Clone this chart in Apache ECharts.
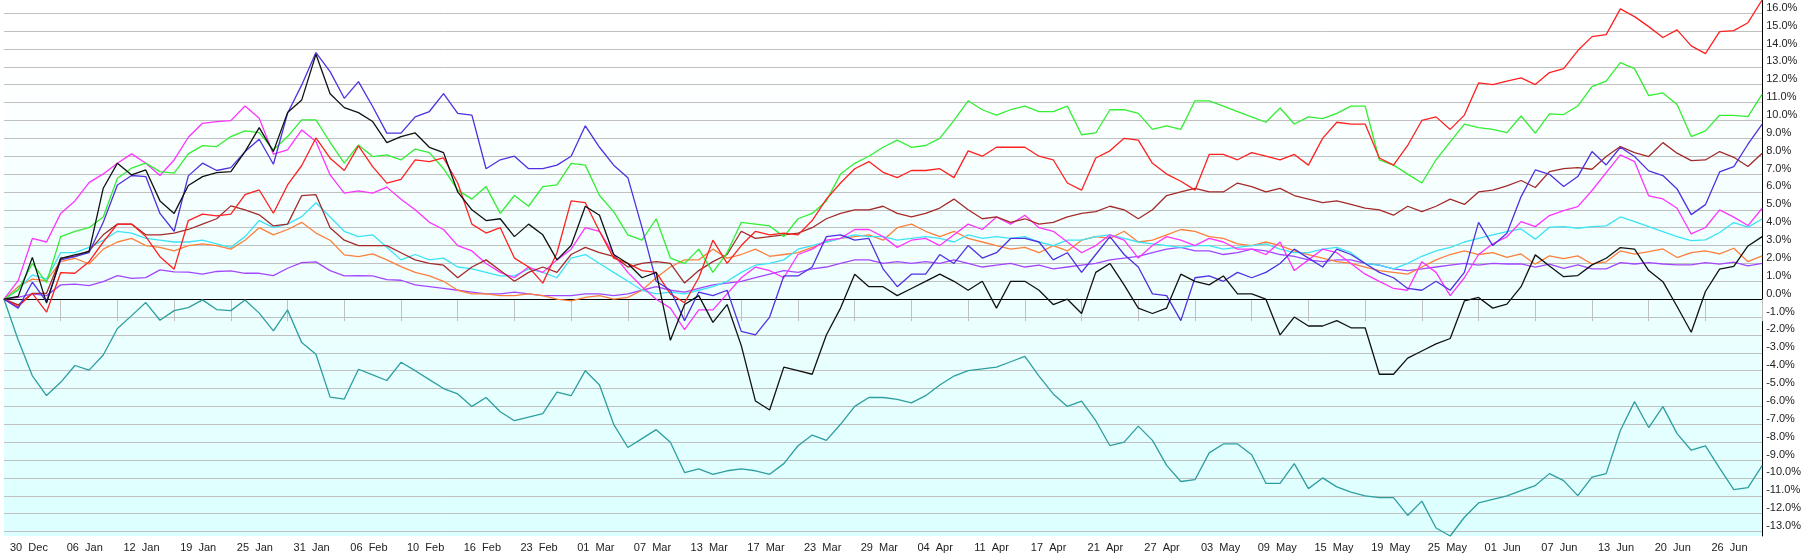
<!DOCTYPE html>
<html>
<head>
<meta charset="utf-8">
<script src="https://cdn.jsdelivr.net/npm/echarts@6/dist/echarts.min.js"></script>
<style>
html,body{margin:0;padding:0;background:#fff;}
#chart{width:1804px;height:558px;}
</style>
</head>
<body>
<div id="chart"></div>
<script>
const categories = [
'30 Dec','03 Jan','04 Jan','05 Jan','06 Jan','09 Jan','10 Jan','11 Jan','12 Jan','13 Jan',
'17 Jan','18 Jan','19 Jan','20 Jan','23 Jan','24 Jan','25 Jan','26 Jan','27 Jan','30 Jan',
'31 Jan','01 Feb','02 Feb','03 Feb','06 Feb','07 Feb','08 Feb','09 Feb','10 Feb','13 Feb',
'14 Feb','15 Feb','16 Feb','17 Feb','21 Feb','22 Feb','23 Feb','24 Feb','27 Feb','28 Feb',
'01 Mar','02 Mar','03 Mar','06 Mar','07 Mar','08 Mar','09 Mar','10 Mar','13 Mar','14 Mar',
'15 Mar','16 Mar','17 Mar','20 Mar','21 Mar','22 Mar','23 Mar','24 Mar','27 Mar','28 Mar',
'29 Mar','30 Mar','31 Mar','03 Apr','04 Apr','05 Apr','06 Apr','07 Apr','11 Apr','12 Apr',
'13 Apr','14 Apr','17 Apr','18 Apr','19 Apr','20 Apr','21 Apr','24 Apr','25 Apr','26 Apr',
'27 Apr','28 Apr','01 May','02 May','03 May','04 May','05 May','08 May','09 May','10 May',
'11 May','12 May','15 May','16 May','17 May','18 May','19 May','22 May','23 May','24 May',
'25 May','26 May','30 May','31 May','01 Jun','02 Jun','05 Jun','06 Jun','07 Jun','08 Jun',
'09 Jun','12 Jun','13 Jun','14 Jun','15 Jun','16 Jun','20 Jun','21 Jun','22 Jun','23 Jun',
'26 Jun','27 Jun','28 Jun','29 Jun','30 Jun'
];

const yTicks = [-13,-12,-11,-10,-9,-8,-7,-6,-5,-4,-3,-2,-1,0,1,2,3,4,5,6,7,8,9,10,11,12,13,14,15,16];

const redSeries = [
0,-0.41,0.33,-0.73,1.49,1.45,2.1,3.2,4.2,4.2,
3.5,2.38,1.68,4.4,4.76,4.66,4.76,5.85,6.11,4.81,
6.39,7.48,9.02,7.89,7.2,8.58,7.42,6.49,6.71,7.8,
7.7,7.9,6.5,4.2,3.7,4.0,2.3,1.8,0.9,2.6,
5.5,5.4,3.8,2.3,2.0,1.6,1.5,0.3,-0.2,1.2,
3.3,2.0,3.0,3.8,3.6,3.7,3.6,4.4,5.6,6.5,
7.3,7.7,7.1,6.8,7.2,7.2,7.3,6.8,8.3,8.0,
8.5,8.5,8.5,8.0,7.8,6.5,6.1,7.9,8.3,9.0,
8.9,7.6,7.0,6.6,6.1,8.1,8.1,7.8,8.2,8.0,
7.8,8.1,7.5,9.0,9.9,9.8,9.8,7.9,7.5,8.6,
10.0,10.2,9.5,10.3,12.1,12.0,12.2,12.38,12.01,12.68,
12.9,13.91,14.69,14.8,16.24,15.81,15.25,14.64,15.07,14.17,
13.74,14.97,15.03,15.47,16.74
];

const greenSeries = [
0,0.52,2.0,0.93,3.5,3.8,4.0,4.6,6.77,7.33,
7.61,7.14,7.05,8.13,8.59,8.54,9.1,9.42,9.32,8.35,
9.1,10.03,10.03,8.78,7.61,8.63,7.98,8.07,7.79,8.4,
8.2,7.3,6.1,5.6,6.3,4.8,5.8,5.2,6.3,6.4,
7.6,7.5,5.8,4.9,3.6,3.3,4.5,2.3,2.0,2.8,
1.5,2.6,4.3,4.2,4.1,3.5,4.5,4.8,5.5,7.0,
7.6,8.0,8.5,8.9,8.5,8.6,9.0,10.0,11.1,10.6,
10.3,10.6,10.8,10.5,10.5,10.8,9.2,9.3,10.6,10.6,
10.4,9.5,9.7,9.5,11.1,11.1,10.8,10.5,10.2,9.9,
10.7,9.8,10.2,10.1,10.4,10.8,10.8,7.8,7.5,7.0,
6.5,7.8,8.8,9.8,9.6,9.5,9.32,10.25,9.29,10.37,
10.33,10.81,11.89,12.2,13.24,12.9,11.39,11.54,10.89,9.1,
9.42,10.29,10.29,10.22,11.47
];

const maroonSeries = [
0,-0.32,0.33,0.33,2.29,2.4,2.7,3.6,4.2,4.2,
3.6,3.6,3.7,3.9,4.2,4.5,5.22,5.0,4.72,4.1,
4.2,5.8,5.85,4.0,3.3,3.0,3.0,3.0,2.6,2.2,
2.0,1.9,1.2,1.8,2.2,1.6,1.0,1.5,1.8,1.5,
2.5,2.9,2.6,2.4,1.8,2.0,2.1,2.0,0.9,1.6,
2.1,2.5,3.8,3.4,3.5,3.6,3.7,4.0,4.5,4.8,
5.0,5.0,5.2,4.8,4.6,4.8,5.1,5.6,5.0,4.5,
4.6,4.3,4.5,4.2,4.3,4.6,4.8,4.9,5.2,5.0,
4.5,5.0,5.8,6.0,6.2,6.0,6.0,6.5,6.3,6.0,
6.2,5.8,5.6,5.4,5.5,5.3,5.1,5.0,4.7,5.2,
4.9,5.2,5.6,5.3,6.0,6.1,6.34,6.64,6.25,7.14,
7.31,7.36,7.27,7.98,8.54,8.2,7.98,8.76,8.17,7.75,
7.79,8.26,7.94,7.42,8.17
];

const blueSeries = [
0,-0.5,0.95,-0.13,2.2,2.38,2.61,4.3,6.39,6.92,
6.86,4.8,3.8,6.9,7.61,7.2,7.36,8.26,8.95,7.55,
10.4,11.99,13.8,12.73,11.24,12.17,10.78,9.29,9.29,10.2,
10.5,11.5,10.4,10.3,7.3,7.8,8.0,7.3,7.3,7.5,
8.0,9.7,8.5,7.5,6.8,4.0,1.0,0.5,-1.2,0.4,
0.2,0.5,-1.8,-2.0,-1.0,1.3,1.3,1.8,3.5,3.6,
3.3,3.4,1.7,0.7,1.4,1.4,2.5,2.0,3.0,2.3,
2.6,3.4,3.4,3.2,2.2,2.6,1.5,2.5,3.5,2.5,
1.8,0.3,0.2,-1.2,1.2,1.3,1.0,1.5,1.2,1.5,
2.0,2.8,2.3,1.8,2.8,2.5,2.0,1.5,1.2,0.6,
0.5,1.0,0.5,1.5,4.3,3.0,3.69,5.74,7.23,6.99,
6.3,6.86,8.26,7.51,8.5,7.98,7.18,6.92,6.17,4.73,
5.29,7.12,7.42,8.67,9.8
];

const magentaSeries = [
0,1.04,3.4,3.2,4.8,5.5,6.52,7.01,7.61,8.13,
7.61,6.92,7.79,9.06,9.84,9.94,9.99,10.81,10.12,8.11,
8.35,9.47,8.82,6.95,5.93,6.06,5.93,6.27,5.59,5.0,
4.3,3.9,3.0,2.7,2.0,1.5,1.2,1.8,1.5,2.2,
2.8,4.0,3.8,2.5,1.5,0.7,0.0,-0.5,-1.7,-0.6,
-0.6,0.3,1.2,1.8,1.6,1.2,2.5,2.8,3.3,3.4,
3.9,3.9,3.5,2.9,3.3,3.4,3.0,3.6,4.2,3.9,
4.6,4.2,4.7,4.0,3.8,3.2,2.6,3.0,3.6,3.3,
2.3,3.0,3.5,3.3,3.0,3.4,3.2,2.8,2.8,2.5,
3.2,1.6,2.2,2.8,2.6,2.0,1.4,1.0,0.6,0.5,
2.1,1.5,0.2,1.2,2.5,3.1,3.49,4.34,4.06,4.68,
4.96,5.18,6.08,7.08,8.07,7.7,5.78,5.61,5.09,3.65,
4.01,5.0,4.59,4.12,5.09
];

const cyanSeries = [
0,0.56,1.36,1.12,2.61,2.6,2.9,3.3,3.8,3.7,
3.4,3.3,3.2,3.2,3.3,3.1,2.9,3.5,4.4,4.0,
4.2,4.62,5.4,4.6,3.8,3.5,3.6,2.9,2.2,2.5,
2.2,2.3,1.8,1.7,1.5,1.3,1.3,1.7,1.5,1.2,
2.3,2.5,2.0,1.5,1.0,0.5,0.3,0.4,0.3,0.5,
0.7,1.0,1.5,1.9,2.0,2.2,2.8,3.0,3.2,3.4,
3.6,3.5,3.5,3.3,3.4,3.5,3.4,3.2,3.6,3.4,
3.5,3.4,3.5,3.2,3.0,3.3,3.3,3.5,3.6,3.4,
3.2,3.1,3.0,2.9,3.0,3.0,2.8,2.9,3.0,3.1,
2.8,2.6,2.6,2.8,2.9,2.6,2.0,1.9,1.7,2.0,
2.4,2.7,2.9,3.2,3.4,3.6,3.78,3.93,3.36,4.03,
4.06,3.97,4.06,4.1,4.6,4.34,4.06,3.78,3.5,3.28,
3.32,3.73,4.29,4.03,4.49
];

const blackSeries = [
0,0.15,2.34,-0.22,2.29,2.48,2.66,6.21,7.61,6.95,
7.23,5.5,4.8,6.36,6.86,7.08,7.14,8.26,9.6,8.26,
10.44,11.15,13.7,11.49,10.72,10.44,9.94,8.76,9.1,9.3,
8.5,8.2,6.0,5.0,4.4,4.5,3.5,4.2,3.6,2.2,
3.0,5.2,4.7,2.5,2.0,1.2,1.5,-2.3,-0.3,0.2,
-1.3,-0.3,-2.6,-5.7,-6.2,-3.8,-4.0,-4.2,-2.0,-0.5,
1.4,0.7,0.7,0.2,0.6,1.0,1.4,1.0,0.5,1.0,
-0.5,1.0,1.0,0.5,-0.3,0.0,-0.8,1.5,2.0,0.8,
-0.5,-0.8,-0.5,1.4,1.0,0.8,1.3,0.3,0.3,0.0,
-2.0,-1.0,-1.5,-1.5,-1.2,-1.6,-1.6,-4.2,-4.2,-3.3,
-2.9,-2.5,-2.2,-0.1,0.1,-0.5,-0.28,0.7,2.48,1.86,
1.26,1.32,1.92,2.29,2.89,2.8,1.6,0.98,-0.41,-1.85,
0.43,1.68,1.83,2.98,3.5
];

const orangeSeries = [
0,0.7,1.12,1.04,2.1,2.29,1.97,2.8,3.2,3.4,
3.0,2.9,2.7,3.0,3.1,3.0,2.8,3.3,4.0,3.6,
3.9,4.3,3.7,3.3,2.48,2.38,2.53,2.2,1.82,1.5,
1.3,1.0,0.5,0.3,0.3,0.2,0.2,0.3,0.2,0.0,
-0.1,0.1,0.2,0.0,0.1,0.5,1.2,1.8,2.2,2.2,
2.8,2.3,2.5,2.8,2.4,2.5,2.6,2.9,3.2,3.4,
3.5,3.6,3.3,4.0,4.2,3.8,3.5,3.8,3.4,3.2,
3.0,2.8,2.9,2.6,3.0,2.7,3.3,3.5,3.4,3.8,
3.2,3.3,3.6,3.9,3.8,3.5,3.4,3.1,3.0,3.2,
3.0,2.7,2.5,2.3,2.1,2.0,1.8,1.6,1.5,1.4,
1.8,2.2,2.5,2.7,2.5,2.6,2.34,2.53,1.96,2.42,
2.27,2.42,1.97,2.09,2.7,2.52,2.66,2.81,2.33,2.61,
2.7,2.53,2.85,2.1,2.42
];

const purpleSeries = [
0,0.1,0.3,0.2,0.8,0.84,0.76,0.98,1.32,1.17,
1.21,1.64,1.53,1.51,1.4,1.55,1.58,1.45,1.45,1.32,
1.73,2.05,2.09,1.6,1.3,1.32,1.3,1.1,1.06,0.8,
0.7,0.6,0.5,0.4,0.3,0.3,0.4,0.3,0.2,0.2,
0.2,0.3,0.3,0.2,0.3,0.5,0.7,0.5,0.4,0.6,
0.8,0.9,1.0,1.2,1.4,1.6,1.5,1.7,1.8,2.0,
2.2,2.2,2.0,2.1,2.0,2.1,2.0,2.2,2.0,1.8,
1.9,2.0,1.8,1.9,1.7,1.8,1.9,2.0,2.2,2.3,
2.4,2.6,2.8,2.9,2.7,2.7,2.5,2.6,2.8,2.7,
2.5,2.4,2.2,2.1,2.2,2.2,2.0,1.9,1.7,1.6,
1.7,1.8,1.9,2.0,1.9,2.0,1.97,1.97,1.79,1.96,
1.73,1.92,1.7,1.7,2.05,1.97,2.05,1.97,1.92,1.92,
2.05,1.96,2.07,1.86,2.01
];

const tealSeries = [
0,-2.28,-4.29,-5.39,-4.65,-3.71,-3.97,-3.12,-1.64,-0.92,
-0.19,-1.18,-0.64,-0.47,-0.04,-0.58,-0.64,-0.04,-0.78,-1.77,
-0.6,-2.43,-3.08,-5.48,-5.59,-3.92,-4.24,-4.55,-3.53,-4.0,
-4.5,-5.0,-5.3,-6.0,-5.5,-6.3,-6.8,-6.6,-6.4,-5.2,
-5.4,-4.0,-4.8,-7.0,-8.3,-7.8,-7.3,-8.0,-9.7,-9.5,
-9.8,-9.6,-9.5,-9.6,-9.8,-9.2,-8.2,-7.6,-7.9,-7.0,
-6.0,-5.5,-5.5,-5.6,-5.8,-5.4,-4.8,-4.3,-4.0,-3.9,
-3.8,-3.5,-3.2,-4.3,-5.3,-6.0,-5.7,-6.8,-8.2,-8.0,
-7.1,-7.9,-9.3,-10.2,-10.1,-8.6,-8.1,-8.1,-8.7,-10.3,
-10.3,-9.2,-10.6,-10.0,-10.5,-10.8,-11.0,-11.1,-11.1,-12.1,
-11.3,-12.8,-13.25,-12.2,-11.4,-11.2,-11.0,-10.71,-10.43,-9.76,
-10.15,-10.99,-9.96,-9.76,-7.35,-5.73,-7.18,-6.01,-7.52,-8.45,
-8.21,-9.45,-10.65,-10.54,-9.31
];

const seriesDefs = [
  {name:'purple', data: purpleSeries, color:'#a347ff'},
  {name:'orange', data: orangeSeries, color:'#ff7f3a'},
  {name:'cyan', data: cyanSeries, color:'#3de3f5'},
  {name:'teal', data: tealSeries, color:'#2e9ea0'},
  {name:'magenta', data: magentaSeries, color:'#ff33ff'},
  {name:'maroon', data: maroonSeries, color:'#a52a2a'},
  {name:'green', data: greenSeries, color:'#33ee33'},
  {name:'red', data: redSeries, color:'#ff2020'},
  {name:'blue', data: blueSeries, color:'#5030e0'},
  {name:'black', data: blackSeries, color:'#111111'}
];

const chart = echarts.init(document.getElementById('chart'), null, {renderer:'canvas'});

const series = seriesDefs.map(function(s, i){
  const o = {
    name: s.name, type:'line', data: s.data, symbol:'none', clip:false,
    lineStyle:{color:s.color, width:1.3}, itemStyle:{color:s.color},
    z: 3 + i, silent:true
  };
  if (i === 0) {
    o.markLine = {
      silent:true, symbol:['none','none'], label:{show:false},
      lineStyle:{color:'#000', width:1, type:'solid'},
      data:[{yAxis:0}], z: 2
    };
  }
  return o;
});

const option = {
  animation:false,
  backgroundColor:'#ffffff',
  grid:{
    left:4, right:40, top:0, bottom:22, show:true, borderWidth:0,
    backgroundColor:{type:'linear', x:0, y:0, x2:0, y2:1, colorStops:[
      {offset:0, color:'#ffffff'},
      {offset:0.12, color:'#ffffff'},
      {offset:1, color:'#dcffff'}
    ]}
  },
  xAxis:{
    type:'category', data:categories, boundaryGap:false,
    axisLine:{show:true, lineStyle:{color:'#000', width:1}},
    axisTick:{show:true, interval:function(i){return i % 4 === 0 && i > 0;}, length:22, lineStyle:{color:'#c0c0c0'}},
    axisLabel:{
      interval:function(i){return i % 4 === 0 && i < 124;},
      align:'left', margin:6, padding:[0,0,0,6],
      fontFamily:'"Liberation Sans", Arial, sans-serif', fontSize:11, color:'#222',
      formatter:function(v){return v.replace(' ', '  ');}
    },
    splitLine:{show:false}
  },
  yAxis:{
    type:'value', position:'right', min:-13.25, max:16.74,
    axisLine:{show:true, lineStyle:{color:'#000', width:1}},
    axisTick:{show:false, customValues:yTicks},
    axisLabel:{
      customValues:yTicks, margin:4, verticalAlign:'bottom', align:'left',
      fontFamily:'"Liberation Sans", Arial, sans-serif', fontSize:11, color:'#222',
      formatter:function(v){return v.toFixed(1) + '%';}
    },
    splitLine:{show:true, lineStyle:{color:'#c0c0c0', width:1}}
  },
  series: series
};

chart.setOption(option);
</script>
</body>
</html>
